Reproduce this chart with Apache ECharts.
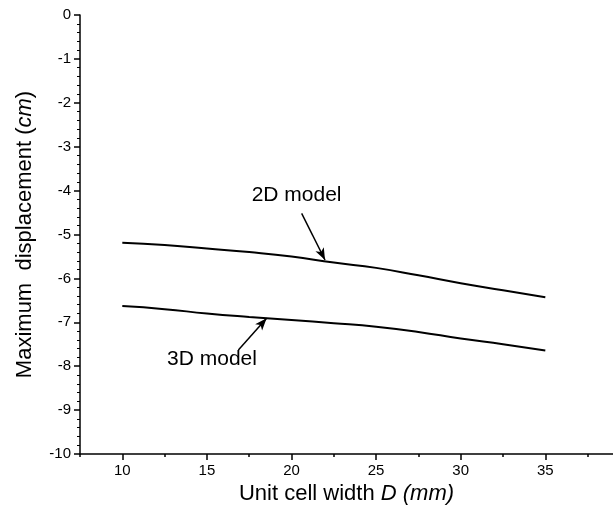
<!DOCTYPE html>
<html>
<head>
<meta charset="utf-8">
<script src="https://cdn.jsdelivr.net/npm/echarts@6/dist/echarts.min.js"></script>
<style>html,body{margin:0;padding:0;background:#fff}#c{width:613px;height:524px}</style>
</head>
<body>
<div id="c"></div>
<script>
const xValues = [10, 12.5, 15, 17.5, 20, 22.5, 25, 27.5, 30, 32.5, 35];
const model2D = [-5.19, -5.24, -5.32, -5.40, -5.50, -5.64, -5.76, -5.93, -6.11, -6.27, -6.43];
const model3D = [-6.63, -6.70, -6.80, -6.88, -6.95, -7.02, -7.10, -7.22, -7.37, -7.50, -7.64];
const xMajorTicks = [10, 15, 20, 25, 30, 35];
const xMinorTicks = [7.5, 12.5, 17.5, 22.5, 27.5, 32.5, 37.5];
const label2D = {text: '2D model', at: [20.3, -4.10], arrowFrom: [20.6, -4.52], arrowTo: [21.98, -5.58]};
const label3D = {text: '3D model', at: [15.3, -7.84], arrowFrom: [16.86, -7.63], arrowTo: [18.53, -6.91]};

const font = 'Liberation Sans, Arial, sans-serif';
const chart = echarts.init(document.getElementById('c'), null, {renderer: 'canvas'});

function annot(a) {
  return {
    markPoint: {
      symbol: 'circle', symbolSize: 0, silent: true, animation: false,
      label: {show: true, position: 'inside', formatter: a.text, color: '#000', fontFamily: font, fontSize: 21},
      data: [{coord: a.at}]
    },
    markLine: {
      silent: true, animation: false,
      symbol: ['none', 'arrow'], symbolSize: [7, 12],
      lineStyle: {color: '#000', width: 1.5, type: 'solid'},
      label: {show: false},
      data: [[{coord: a.arrowFrom}, {coord: a.arrowTo}]]
    }
  };
}

const mk = (vals) => xValues.map((x, i) => [x, vals[i]]);

chart.setOption({
  animation: false,
  backgroundColor: '#fff',
  grid: {left: 80, top: 15, right: 0, bottom: 70, containLabel: false},
  xAxis: [{
    type: 'value', min: 7.5, max: 39, interval: 2.5,
    name: 'Unit cell width {i|D (mm)}', nameLocation: 'middle', nameGap: 28,
    nameTextStyle: {color: '#000', fontFamily: font, fontSize: 22, rich: {i: {fontStyle: 'italic', fontFamily: font, fontSize: 22, color: '#000'}}},
    axisLine: {show: true, onZero: false, lineStyle: {color: '#000', width: 1.5}},
    axisTick: {show: true, inside: false, length: 6, customValues: xMajorTicks, lineStyle: {color: '#000', width: 1.5}},
    axisLabel: {show: true, customValues: xMajorTicks, color: '#000', fontFamily: font, fontSize: 15, margin: 9},
    splitLine: {show: false}
  }, {
    type: 'value', min: 7.5, max: 39, interval: 2.5, position: 'bottom',
    axisLine: {show: false, onZero: false},
    axisTick: {show: true, inside: false, length: 3, customValues: xMinorTicks, lineStyle: {color: '#000', width: 1.5}},
    axisLabel: {show: false},
    splitLine: {show: false}
  }],
  yAxis: {
    type: 'value', min: -10, max: 0, interval: 1,
    name: 'Maximum  displacement ({i|cm})', nameLocation: 'middle', nameGap: 44,
    nameTextStyle: {color: '#000', fontFamily: font, fontSize: 22, rich: {i: {fontStyle: 'italic', fontFamily: font, fontSize: 22, color: '#000'}}},
    axisLine: {show: true, onZero: false, lineStyle: {color: '#000', width: 1.5}},
    axisTick: {show: true, inside: false, length: 6, lineStyle: {color: '#000', width: 1.5}},
    minorTick: {show: true, splitNumber: 5, length: 3, lineStyle: {color: '#000', width: 1}},
    axisLabel: {show: true, color: '#000', fontFamily: font, fontSize: 15, margin: 9},
    splitLine: {show: false}
  },
  series: [
    Object.assign({
      type: 'line', name: '2D model', data: mk(model2D), smooth: true, showSymbol: false,
      lineStyle: {color: '#000', width: 2}, itemStyle: {color: '#000'}
    }, annot(label2D)),
    Object.assign({
      type: 'line', name: '3D model', data: mk(model3D), smooth: true, showSymbol: false,
      lineStyle: {color: '#000', width: 2}, itemStyle: {color: '#000'}
    }, annot(label3D))
  ]
});
</script>
</body>
</html>
